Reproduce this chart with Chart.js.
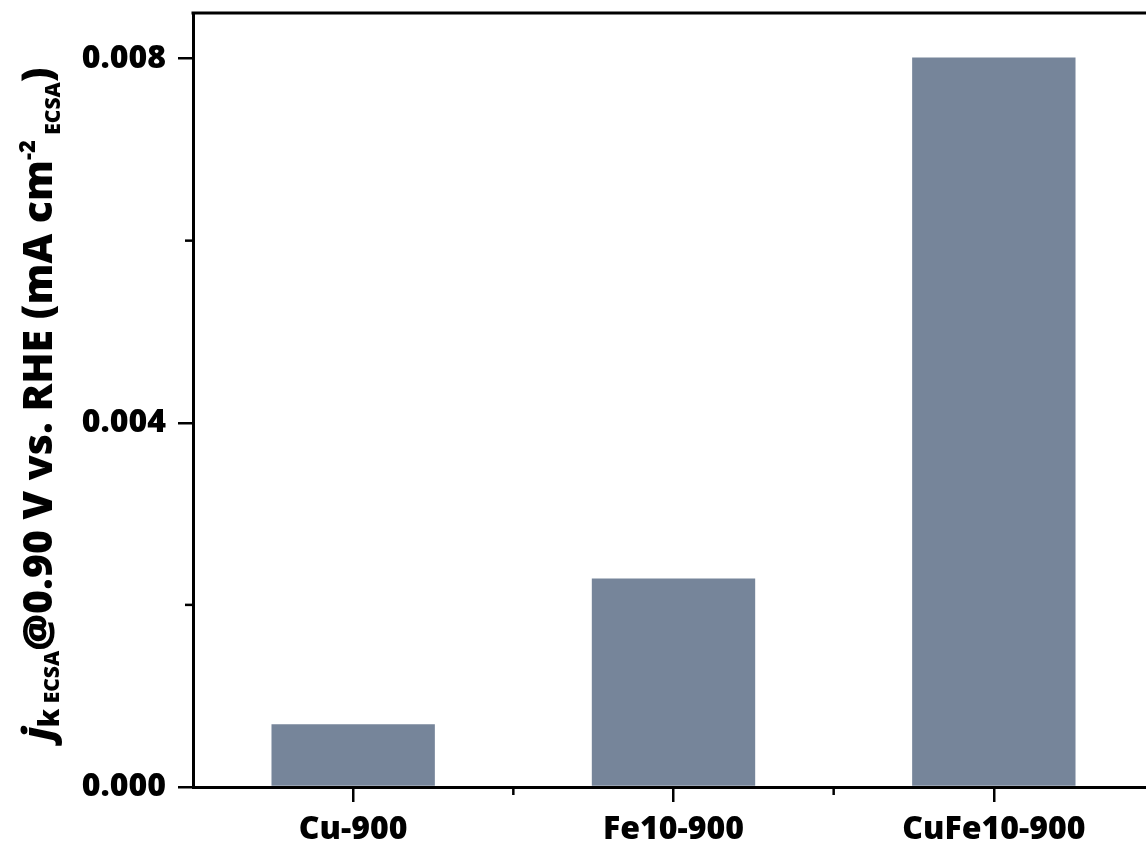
<!DOCTYPE html>
<html>
<head>
<meta charset="utf-8">
<script src="https://cdn.jsdelivr.net/npm/chart.js@4.4.0/dist/chart.umd.min.js"></script>
<style>
  html, body { margin: 0; padding: 0; background: #fff; overflow: hidden; }
</style>
</head>
<body>
<canvas id="chart" width="1160" height="847"></canvas>
<script>
// --- data ---
const categories = ['Cu-900', 'Fe10-900', 'CuFe10-900'];
const jkValues = [0.00069, 0.00229, 0.00801];
const yMajorTicks = [0, 0.004, 0.008];
const yMinorTicks = [0.002, 0.006];

const barColor = 'rgb(118,133,154)';
const tickFont = { family: 'Open Sans', size: 32, weight: '800' };

// frame line on top + minor ticks + rotated y title with sub/superscripts
const extras = {
    id: 'extras',
    afterDraw(chart) {
        const ctx = chart.ctx;
        const area = chart.chartArea;
        const x = chart.scales.x, y = chart.scales.y;
        ctx.save();
        ctx.strokeStyle = '#000';
        ctx.lineWidth = 3;
        ctx.beginPath();
        ctx.moveTo(area.left - 1.5, area.top);
        ctx.lineTo(area.right + 10, area.top);
        ctx.stroke();

        // minor ticks
        ctx.lineWidth = 2.5;
        yMinorTicks.forEach(v => {
            const py = y.getPixelForValue(v);
            ctx.beginPath();
            ctx.moveTo(area.left - 8, py);
            ctx.lineTo(area.left, py);
            ctx.stroke();
        });
        for (let i = 0; i < categories.length - 1; i++) {
            const px = (x.getPixelForValue(i) + x.getPixelForValue(i + 1)) / 2;
            ctx.beginPath();
            ctx.moveTo(px, area.bottom);
            ctx.lineTo(px, area.bottom + 8);
            ctx.stroke();
        }

        // y axis title
        const main = '800 41px "Open Sans"';
        const sub = '800 21px "Open Sans"';
        const parts = [
            { t: 'j', f: 'italic 800 41px "Open Sans"', dy: 0 },
            { t: 'k', f: '800 28px "Open Sans"', dy: 7 },
            { t: ' ECSA', f: sub, dy: 7 },
            { t: '@0.90 V vs. RHE (mA cm', f: main, dy: 0 },
            { t: '-2', f: '800 22px "Open Sans"', dy: -17 },
            { t: ' ECSA', f: sub, dy: 8 },
            { t: ')', f: main, dy: 0 }
        ];
        let total = 0;
        parts.forEach(p => { ctx.font = p.f; p.w = ctx.measureText(p.t).width; total += p.w; });
        ctx.translate(52, 404);
        ctx.rotate(-Math.PI / 2);
        ctx.fillStyle = '#000';
        ctx.textBaseline = 'alphabetic';
        let cx = -total / 2;
        parts.forEach(p => {
            ctx.font = p.f;
            ctx.fillText(p.t, cx, p.dy);
            cx += p.w;
        });
        ctx.restore();
    }
};

new Chart(document.getElementById('chart'), {
    type: 'bar',
    data: {
        labels: categories,
        datasets: [{
            data: jkValues,
            backgroundColor: barColor,
            borderWidth: 0,
            categoryPercentage: 1,
            barPercentage: 0.51
        }]
    },
    options: {
        responsive: false,
        animation: false,
        layout: { padding: { top: 13, right: 6, left: 0, bottom: 0 } },
        plugins: { legend: { display: false }, tooltip: { enabled: false } },
        scales: {
            x: {
                offset: true,
                grid: { offset: false, drawOnChartArea: false, drawTicks: true, tickLength: 15, color: '#000', lineWidth: 2.5 },
                border: { color: '#000', width: 3 },
                ticks: { color: '#000', font: tickFont, padding: 9, maxRotation: 0 },
                afterFit(s) { s.height = 60; s.paddingLeft = 0; s.paddingRight = 0; }
            },
            y: {
                min: 0,
                max: 0.0085,
                afterBuildTicks(s) { s.ticks = yMajorTicks.map(v => ({ value: v })); },
                grid: { drawOnChartArea: false, drawTicks: true, tickLength: 15, color: '#000', lineWidth: 2.5 },
                border: { color: '#000', width: 3 },
                ticks: {
                    color: '#000', font: tickFont, padding: 12,
                    callback: v => Number(v).toFixed(3)
                },
                afterFit(s) { s.width = 193; s.paddingTop = 0; s.paddingBottom = 0; }
            }
        }
    },
    plugins: [extras]
});
</script>
</body>
</html>
